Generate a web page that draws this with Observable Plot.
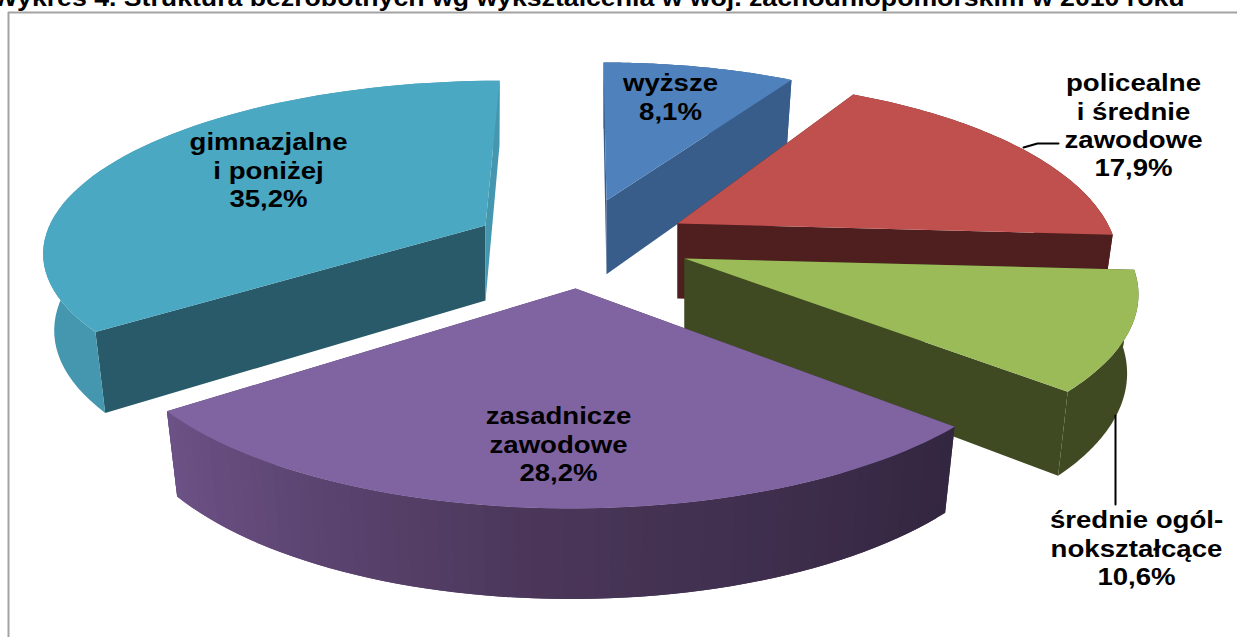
<!DOCTYPE html>
<html lang="pl">
<head>
<meta charset="utf-8">
<script src="https://cdn.jsdelivr.net/npm/d3@7"></script>
<script src="https://cdn.jsdelivr.net/npm/@observablehq/plot@0.6"></script>
<style>
html,body{margin:0;padding:0;background:#fff;overflow:hidden}
svg{display:block}
</style>
</head>
<body>
<div id="chart"></div>
<script>
// ---- values
const categories = ["wyższe", "policealne i średnie zawodowe", "średnie ogólnokształcące", "zasadnicze zawodowe", "gimnazjalne i poniżej"];
const shares = [8.1, 17.9, 10.6, 28.2, 35.2];
const labelTexts = ["wyższe\n8,1%", "policealne\ni średnie\nzawodowe\n17,9%", "średnie ogól-\nnokształcące\n10,6%", "zasadnicze\nzawodowe\n28,2%", "gimnazjalne\ni poniżej\n35,2%"];
const titleText = "Wykres 4. Struktura bezrobotnych wg wykształcenia w woj. zachodniopomorskim w 2010 roku";

// ---- styles
const topColors = ["#4f81bd", "#c0504d", "#9bbb59", "#8064a2", "#4aa8c3"];
const endFaceColors = ["#385d8a", "#4f1e1e", "#3f4a22", "#4a3659", "#4497af"];
const arcColors = ["#385d8a", "#4f1e1e", "#3f4a22", null, "#4497af"];
const startFaceColors = ["#385d8a", "#4f1e1e", "#3f4a22", "#4a3659", "#285a69"];

// ---- perspective of each exploded slice: apex, radii, shear and foreshortening
const slicePose = [
  {ax: 606, ay: 200, rx: 385, ry: 138, sx: -3, k: 0},
  {ax: 677, ay: 223, rx: 430, ry: 176, sx: 0, k: 0.22},
  {ax: 684, ay: 258, rx: 445, ry: 176, sx: -8, k: 0.18},
  {ax: 575, ay: 288, rx: 461, ry: 187, sx: 4, k: 0.15},
  {ax: 485, ay: 225, rx: 436, ry: 164, sx: 16, k: 0.133}
];
const labelPose = [[670, 71], [1133, 71], [1136, 508], [558, 404], [268, 130]];
const leaders = [
  {id: "a", x: [1023, 1037, 1058], y: [147, 143, 143]},
  {id: "b", x: [1115, 1115], y: [415, 504]}
];

// ---- derive angles from the shares
const total = d3.sum(shares);
const spans = [];
{
  let acc = 0;
  for (const s of shares) {
    const a0 = (acc / total) * 2 * Math.PI;
    acc += s;
    spans.push([a0, (acc / total) * 2 * Math.PI]);
  }
}
const project = (p, t) => {
  const w = 1 / (1 + p.k * Math.cos(t));
  return [p.ax + (p.rx * Math.sin(t) + p.sx * Math.cos(t)) * w, p.ay - p.ry * Math.cos(t) * w];
};
const extrude = (p, [x, y]) => [x - 0.025 * (x - p.ax), y + 75 + (y - 225) * 0.055];

const polys = [];
let pid = 0;
const addPoly = (pts, color) => {
  const id = pid++;
  for (const [x, y] of pts) polys.push({id, x, y, color});
};
const arcPts = (p, a, b) => d3.range(0, 61).map(i => project(p, a + (b - a) * i / 60));
const purpleRamp = d3.scaleLinear().domain([0, 0.5, 1]).range(["#332640", "#4a3659", "#6c5186"]);

const order = [0, 1, 2, 4, 3];
for (const i of order) {
  const p = slicePose[i], [a, b] = spans[i];
  const apex = [p.ax, p.ay];
  const s = project(p, a), e = project(p, b);
  // radial faces
  addPoly([apex, s, extrude(p, s), extrude(p, apex)], startFaceColors[i]);
  addPoly([apex, e, extrude(p, e), extrude(p, apex)], endFaceColors[i]);
  // outer rim
  if (arcColors[i]) {
    const arc = arcPts(p, a, b);
    addPoly([...arc, ...arc.map(q => extrude(p, q)).reverse()], arcColors[i]);
  } else {
    // gradient rim: overlapping strips painted from one end to the other
    const n = 60;
    for (let j = 0; j < n; j++) {
      const t0 = a + (b - a) * j / n, t1 = a + (b - a) * Math.min(j + 2, n) / n;
      const q0 = project(p, t0), q1 = project(p, t1);
      addPoly([q0, q1, extrude(p, q1), extrude(p, q0)], purpleRamp(j / (n - 1)));
    }
  }
  // top face
  addPoly([apex, ...arcPts(p, a, b)], topColors[i]);
}

const labels = labelTexts.map((t, i) => ({t, x: labelPose[i][0], y: labelPose[i][1]}));
const leaderRows = leaders.flatMap(l => l.x.map((x, i) => ({id: l.id, x, y: l.y[i]})));

const chart = Plot.plot({
  width: 1237, height: 637,
  margin: 0,
  x: {domain: [0, 1237], range: [0, 1237], axis: null},
  y: {domain: [0, 637], range: [0, 637], axis: null},
  color: {type: "identity"},
  style: {background: "#fff", fontFamily: "'Liberation Sans', Arial, sans-serif"},
  marks: [
    Plot.ruleY([12], {x1: 8, x2: 1237, stroke: "#a3a3a3", strokeWidth: 2}),
    Plot.ruleX([8], {y1: 12, y2: 637, stroke: "#a3a3a3", strokeWidth: 2}),
    Plot.line(polys, {x: "x", y: "y", z: "id", fill: "color", stroke: "none", curve: "linear-closed"}),
    Plot.line(leaderRows, {x: "x", y: "y", z: "id", stroke: "#000", strokeWidth: 2}),
    Plot.text(labels, {x: "x", y: "y", text: "t", lineAnchor: "top", textAnchor: "middle", fontSize: 24, fontWeight: "bold", lineHeight: 1.17, fill: "#000", className: "lbl"}),
    Plot.text([titleText], {x: [588], y: [5], text: d => d, textAnchor: "middle", lineAnchor: "bottom", fontSize: 23, fontWeight: "bold", fill: "#000", className: "ttl"})
  ]
});
d3.select(chart).selectAll(".lbl text, .ttl text").attr("transform", function () {
  const sx = this.closest(".ttl") ? 1.16 : 1.15;
  return (this.getAttribute("transform") || "") + ` scale(${sx},1)`;
});
document.getElementById("chart").append(chart);
</script>
</body>
</html>
